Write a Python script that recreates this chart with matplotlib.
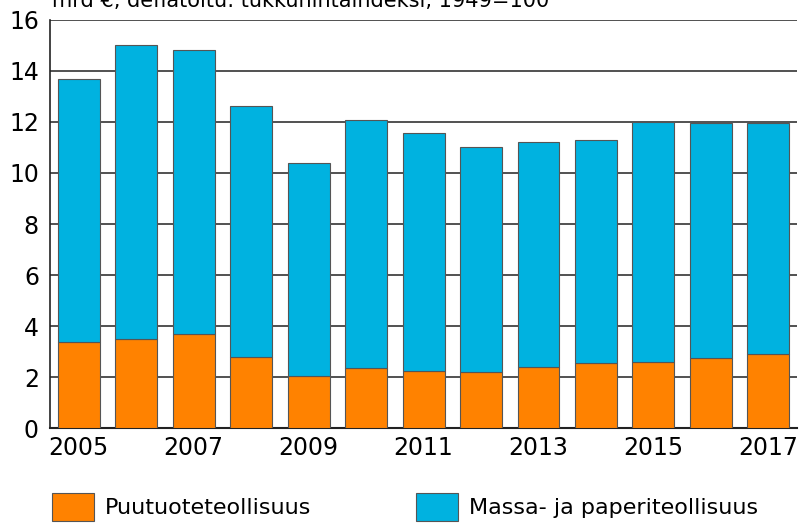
import matplotlib.pyplot as plt

vuodet = [2005, 2006, 2007, 2008, 2009, 2010, 2011, 2012, 2013, 2014, 2015, 2016, 2017]
puutuote = [3.37, 3.49, 3.69, 2.78, 2.04, 2.35, 2.25, 2.18, 2.38, 2.54, 2.60, 2.76, 2.90]
yhteensa = [13.69, 15.03, 14.84, 12.63, 10.38, 12.09, 11.56, 11.03, 11.22, 11.29, 12.01, 11.95, 11.97]
massa_paperi = [t - p for t, p in zip(yhteensa, puutuote)]
x_tikit = ['2005', '2007', '2009', '2011', '2013', '2015', '2017']

oranssi = '#FF8200'
sininen = '#00B2E0'

fig = plt.figure(figsize=(7.99, 5.23), dpi=100)
ax = fig.add_axes([0.0626, 0.1816, 0.935, 0.7802])

x = list(range(len(vuodet)))
ax.bar(x, puutuote, width=0.73, color=oranssi, edgecolor='#555555', linewidth=0.8,
       label='Puutuoteteollisuus', zorder=3)
ax.bar(x, massa_paperi, width=0.73, bottom=puutuote, color=sininen, edgecolor='#555555',
       linewidth=0.8, label='Massa- ja paperiteollisuus', zorder=3)

ax.set_xlim(-0.5, len(vuodet) - 0.5)
ax.set_ylim(0, 16)
ax.set_yticks(range(0, 17, 2))
ax.set_xticks([i for i, v in enumerate(vuodet) if str(v) in x_tikit])
ax.set_xticklabels(x_tikit)
ax.grid(axis='y', color='#333333', linewidth=1.2, zorder=0)
ax.tick_params(axis='both', length=0, labelsize=17)
ax.tick_params(axis='y', pad=8)
ax.tick_params(axis='x', pad=6)
for s in ['top', 'right']:
    ax.spines[s].set_visible(False)
ax.spines['left'].set_color('#222222')
ax.spines['bottom'].set_color('#222222')
ax.spines['left'].set_linewidth(1.2)
ax.spines['bottom'].set_linewidth(1.5)

# otsikko on leikkautunut kuvan yläreunassa kuten alkuperäisessä
fig.text(0.065, 0.9866, 'mrd €, deflatoitu: tukkuhintaindeksi, 1949=100', fontsize=15,
         va='baseline', ha='left')

fig.legend(loc='lower left', bbox_to_anchor=(0.04, -0.035), ncol=2, frameon=False,
           fontsize=16, handlelength=1.9, handleheight=1.6, handletextpad=0.5,
           columnspacing=4.7)

plt.savefig('out.png', dpi=100)
